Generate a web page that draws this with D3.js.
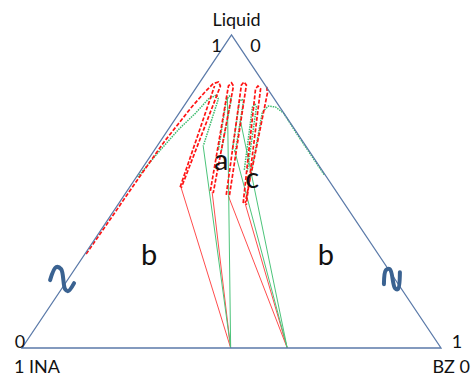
<!DOCTYPE html>
<html>
<head>
<meta charset="utf-8">
<script src="https://cdn.jsdelivr.net/npm/d3@7"></script>
<style>
  html, body { margin: 0; padding: 0; background: #fff; }
  svg { display: block; font-family: Lato, "Open Sans", sans-serif; }
</style>
</head>
<body>
<svg id="chart" width="471" height="376"></svg>
<script>
// Compositions are [BZ fraction, Liquid fraction]; INA = 1 - BZ - Liquid.

// Solid phases on the INA–BZ base (BZ fraction)
const solidPhases = [0.498, 0.633];

// Red dashed solubility curve: edge branch, hairpin loops, right-edge branch
const redBranch1 = [[0.003, 0.30], [0.005, 0.42], [0.007, 0.54], [0.010, 0.66], [0.020, 0.77],
                    [0.028, 0.82], [0.034, 0.845], [0.044, 0.850], [0.055, 0.837], [0.1245, 0.511]];
const redLoop1 = [[0.1205, 0.514], [0.041, 0.837]];
const redLoop2 = [[0.1986, 0.502], [0.0742, 0.837], [0.0766, 0.847], [0.0862, 0.837], [0.2088, 0.495]];
const redLoop3 = [[0.243, 0.489], [0.1036, 0.840], [0.1048, 0.850], [0.1155, 0.840], [0.2535, 0.482]];
const redLoop4 = [[0.2964, 0.463], [0.1434, 0.828], [0.1446, 0.837], [0.1554, 0.828], [0.3067, 0.457]];
const redBranch5 = [[0.167, 0.834], [0.1783, 0.815], [0.3012, 0.463]];

// Green dotted solubility curve
const greenBranch1 = [[0.003, 0.546], [0.012, 0.62], [0.025, 0.70], [0.039, 0.75], [0.047, 0.7955],
                      [0.060, 0.808], [0.0709, 0.7955], [0.110, 0.645]];
const greenLoop2 = [[0.1523, 0.633], [0.0916, 0.792], [0.0924, 0.805], [0.1019, 0.7955], [0.1611, 0.629]];
const greenLoop3 = [[0.1857, 0.633], [0.1258, 0.786], [0.1275, 0.7955], [0.1353, 0.786], [0.196, 0.626]];
const greenLoop4 = [[0.2461, 0.569], [0.1649, 0.770], [0.166, 0.780], [0.1745, 0.770], [0.2566, 0.562]];
const greenBranch5 = [[0.2733, 0.543], [0.1967, 0.754], [0.2014, 0.773], [0.2198, 0.770],
                      [0.2484, 0.751], [0.3175, 0.6805], [0.4453, 0.5527]];

// Tie lines: [BZ, Liquid] on the curve, index of the solid phase
const redTies = [[[0.1245, 0.511], 0], [[0.2048, 0.498], 0], [[0.2494, 0.486], 1], [[0.3029, 0.460], 1]];
const greenTies = [[[0.110, 0.645], 0], [[0.0893, 0.802], 0], [[0.1905, 0.633], 1], [[0.157, 0.728], 1]];

// Vertex and end-of-scale labels
const topTitle = "Liquid";
const topTicks = ["1", "0"];
const leftTicks = ["0", "1 INA"];
const rightTicks = ["1", "BZ 0"];
const regionLabels = [["a", [0.175, 0.601]], ["c", [0.278, 0.543]], ["b", [0.155, 0.297]], ["b", [0.577, 0.297]]];

const svg = d3.select("#chart");
const x = d3.scaleLinear().domain([0, 1]).range([22, 441]);
const y = d3.scaleLinear().domain([0, 1]).range([348, 35]);
const px = d => x(d[0] + d[1] / 2);
const py = d => y(d[1]);
const line = d3.line().x(px).y(py);

// tie lines
const ties = svg.append("g");
redTies.forEach(([p, s]) => ties.append("path")
  .attr("d", line([p, [solidPhases[s], 0]]))
  .attr("fill", "none").attr("stroke", "#ff4d4d").attr("stroke-width", 1));
greenTies.forEach(([p, s]) => ties.append("path")
  .attr("d", line([p, [solidPhases[s], 0]]))
  .attr("fill", "none").attr("stroke", "#4cc47a").attr("stroke-width", 1));

// green dotted curve
[greenBranch1, greenLoop2, greenLoop3, greenLoop4, greenBranch5].forEach(c =>
  svg.append("path").attr("d", line(c)).attr("fill", "none")
    .attr("stroke", "#3dbb6e").attr("stroke-width", 1.5)
    .attr("stroke-dasharray", "1.5,1"));

// red dashed curve
[redBranch1, redLoop1, redLoop2, redLoop3, redLoop4, redBranch5].forEach(c =>
  svg.append("path").attr("d", line(c)).attr("fill", "none")
    .attr("stroke", "#ff1414").attr("stroke-width", 1.7)
    .attr("stroke-dasharray", "4,1.8"));

// triangle frame
svg.append("path")
  .attr("d", line([[0, 0], [1, 0], [0, 1]]) + "Z")
  .attr("fill", "none").attr("stroke", "#5b7aa9").attr("stroke-width", 1.3);

// axis break marks on the two side edges
const breakShapes = [
  { at: [0, 0.22], shape: [[-18, 1], [-12, -12], [-7, -10], [-3, 10], [0, 12], [6, 4]] },
  { at: [0.78, 0.22], shape: [[-11, 5], [-9, -9], [-5, -10], [0, 9], [3, 10], [5, -7]] }
];
breakShapes.forEach(b => {
  const cx = px(b.at), cy = py(b.at);
  svg.append("path")
    .attr("d", d3.line().curve(d3.curveCatmullRom)(b.shape.map(p => [cx + p[0], cy + p[1]])))
    .attr("fill", "none").attr("stroke", "#3a6291").attr("stroke-width", 4)
    .attr("stroke-linecap", "round").attr("stroke-linejoin", "round");
});

// texts
const txt = (s, tx, ty, size, anchor) => svg.append("text")
  .attr("x", tx).attr("y", ty).attr("font-size", size)
  .attr("text-anchor", anchor || "middle").attr("fill", "#111").text(s);

const apex = [0, 1], left = [0, 0], right = [1, 0];
txt(topTitle, px(apex) + 5, py(apex) - 9, 18);
txt(topTicks[0], px(apex) - 15, py(apex) + 17, 18);
txt(topTicks[1], px(apex) + 24, py(apex) + 17, 18);
txt(leftTicks[0], px(left) - 2, py(left), 18);
txt(leftTicks[1], px(left) - 8, py(left) + 25, 18, "start");
txt(rightTicks[0], px(right) + 16, py(right), 18);
txt(rightTicks[1], px(right) + 29, py(right) + 25, 18, "end");

regionLabels.forEach(([s, p]) => txt(s, px(p), py(p) + 10, 29));
</script>
</body>
</html>
